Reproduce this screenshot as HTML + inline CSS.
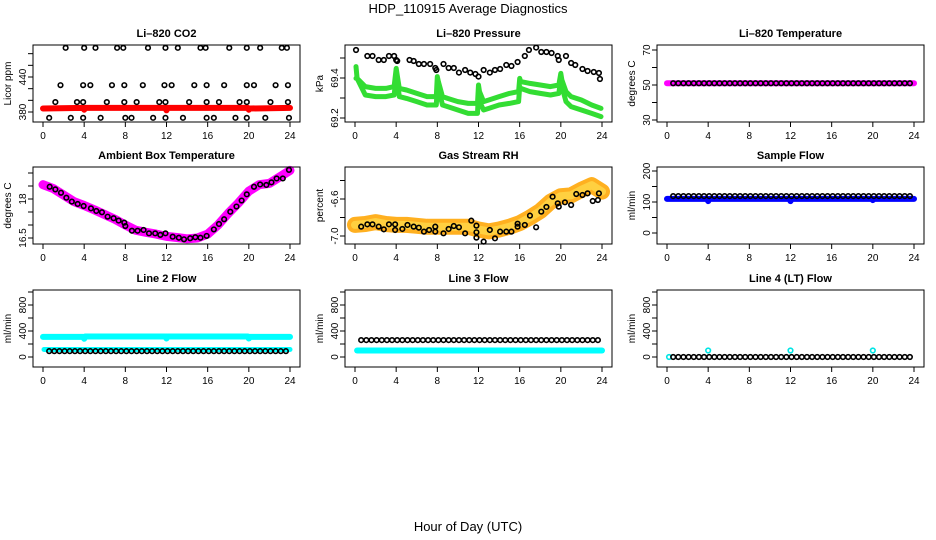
<!DOCTYPE html>
<html><head><meta charset="utf-8">
<style>
html,body{margin:0;padding:0;background:#fff;}
svg{display:block;font-family:"Liberation Sans",Arial,sans-serif;}
</style></head>
<body>
<svg id="chart" width="936" height="540" viewBox="0 0 936 540" xmlns="http://www.w3.org/2000/svg">
<text x="468" y="13" text-anchor="middle" font-size="13">HDP_110915  Average Diagnostics</text>
<text x="468" y="531" text-anchor="middle" font-size="13">Hour of Day (UTC)</text>
</svg>
<script>
// ---------- data ----------
const H47 = [0.6,1.1,1.6,2.1,2.6,3.1,3.6,4.1,4.6,5.1,5.6,6.1,6.6,7.1,7.6,8.1,8.6,9.1,9.6,10.1,10.6,11.1,11.6,12.1,12.6,13.1,13.6,14.1,14.6,15.1,15.6,16.1,16.6,17.1,17.6,18.1,18.6,19.1,19.6,20.1,20.6,21.1,21.6,22.1,22.6,23.1,23.6];
// CO2
const co2RedT = [0,3.9,4,4.1,11.9,12,12.1,19.9,20,20.1,24];
const co2RedV = [386,387,384,387,387,383,387,387,384,386,387];
const co2BlackT = [2.2,4.0,5.1,7.2,7.8,10.2,11.9,13.1,15.3,15.8,18.1,19.8,21.1,23.2,23.7,
 1.7,3.9,4.6,6.7,7.9,9.7,11.8,12.5,14.7,15.9,17.6,19.8,20.5,22.6,23.8,
 1.2,3.3,3.9,6.2,7.9,9.1,11.3,11.9,14.2,15.9,17.1,19.1,19.8,22.1,23.8,
 0.6,2.7,3.9,5.6,8.0,8.6,10.7,11.9,13.6,15.9,16.6,18.7,19.8,21.6,23.9];
const co2BlackV = [490,490,490,490,490,490,490,490,490,490,490,490,490,490,490,
 426,426,426,426,426,426,426,426,426,426,426,426,426,426,426,
 397,397,397,397,397,397,397,397,397,397,397,397,397,397,397,
 370,370,370,370,370,370,370,370,370,370,370,370,370,370,370];
// Pressure
const presBlackT = [0.1,1.2,1.7,2.3,2.8,3.3,3.8,4.0,4.1,5.3,5.7,6.2,6.7,7.3,7.8,7.9,8.6,9.1,9.6,10.1,10.7,11.2,11.7,12.0,12.5,13.1,13.6,14.1,14.7,15.2,15.8,16.5,16.9,17.6,18.1,18.6,19.1,19.7,19.8,20.5,21.0,21.4,22.1,22.6,23.2,23.7,23.8];
const presBlackV = [69.54,69.51,69.51,69.49,69.49,69.51,69.51,69.49,69.485,69.49,69.485,69.47,69.47,69.47,69.45,69.44,69.47,69.45,69.45,69.427,69.44,69.427,69.42,69.407,69.44,69.427,69.44,69.445,69.465,69.46,69.48,69.51,69.54,69.552,69.53,69.53,69.525,69.51,69.49,69.51,69.475,69.465,69.445,69.435,69.43,69.425,69.395];
const greenT = [0.1,0.2,1,2,3,3.8,4.0,4.1,4.3,5,6,7,7.9,8.0,8.1,8.5,9,10,11,11.9,12,12.1,12.5,13,14,15,15.9,16,16.1,17,18,19,19.8,20,20.1,20.5,21,22,23,23.9];
const greenUpper = [69.457,69.398,69.357,69.348,69.348,69.357,69.448,69.415,69.348,69.34,69.323,69.307,69.307,69.407,69.382,69.307,69.298,69.282,69.273,69.273,69.365,69.332,69.282,69.29,69.307,69.323,69.332,69.398,69.382,69.373,69.365,69.357,69.365,69.423,69.39,69.332,69.307,69.29,69.265,69.248];
const greenLower = [69.398,69.398,69.315,69.307,69.307,69.315,69.398,69.39,69.307,69.298,69.282,69.265,69.265,69.357,69.348,69.265,69.257,69.24,69.223,69.223,69.332,69.282,69.24,69.248,69.265,69.273,69.282,69.357,69.348,69.332,69.323,69.315,69.323,69.398,69.357,69.282,69.257,69.24,69.223,69.207];
// Li-820 temperature
const tempBandT = [0,24];
const tempBandV = [51,51];
const tempBlackV = [51,51,51,51,51,51,51,51,51,51,51,51,51,51,51,51,51,51,51,51,51,51,51,51,51,51,51,51,51,51,51,51,51,51,51,51,51,51,51,51,51,51,51,51,51,51,51];
// Ambient box temperature
const ambBandT = [0,1,2,3,4,5,6,7,8,9,10,11,12,13,14,15,16,17,18,19,20,21,22,23,24];
const ambBandV = [18.55,18.4,18.15,17.9,17.75,17.58,17.4,17.22,17.0,16.8,16.72,16.65,16.56,16.52,16.47,16.5,16.65,17.0,17.45,17.85,18.3,18.55,18.6,18.85,19.1];
const ambBlackT = [0.65,1.2,1.75,2.27,2.8,3.37,3.95,4.66,5.18,5.73,6.28,6.86,7.35,7.9,8.0,8.64,9.19,9.77,10.3,10.9,11.4,11.9,12.6,13.2,13.7,14.3,14.8,15.3,15.9,16.6,17.1,17.6,18.2,18.8,19.3,19.8,20.5,21.1,21.7,22.2,22.7,23.3,23.9];
const ambBlackV = [18.47,18.37,18.24,18.05,17.9,17.81,17.73,17.64,17.54,17.49,17.32,17.26,17.17,17.09,16.96,16.78,16.78,16.81,16.68,16.68,16.62,16.68,16.55,16.51,16.45,16.49,16.53,16.51,16.58,16.83,17.04,17.22,17.51,17.71,17.94,18.18,18.47,18.56,18.54,18.64,18.79,18.79,19.12];
// Gas stream RH
const rhBandT = [0,1,2,3,4,5,6,7,8,9,10,11,12,13,14,15,16,17,18,19,20,21,22,23,24];
const rhBandV = [-6.88,-6.87,-6.85,-6.87,-6.88,-6.88,-6.89,-6.9,-6.9,-6.9,-6.9,-6.9,-6.93,-6.95,-6.93,-6.9,-6.86,-6.8,-6.73,-6.63,-6.57,-6.56,-6.5,-6.45,-6.52];
const rhBlackT = [0.6,1.2,1.7,2.3,2.8,3.3,3.9,3.9,4.6,5.1,5.7,6.2,6.7,7.2,7.8,7.8,8.6,9.1,9.6,10.1,10.7,11.3,11.8,11.8,11.8,12.5,13.1,13.6,14.1,14.7,15.2,15.8,15.8,16.5,17.0,17.6,18.1,18.6,19.2,19.7,19.8,20.4,21.0,21.5,22.1,22.6,23.1,23.6,23.7];
const rhBlackV = [-6.899,-6.874,-6.874,-6.899,-6.928,-6.874,-6.874,-6.935,-6.924,-6.881,-6.899,-6.91,-6.953,-6.935,-6.899,-6.953,-6.971,-6.924,-6.892,-6.906,-6.971,-6.834,-6.888,-6.96,-7.018,-7.061,-6.935,-7.025,-6.953,-6.953,-6.953,-6.899,-6.867,-6.881,-6.78,-6.906,-6.737,-6.686,-6.575,-6.647,-6.683,-6.636,-6.665,-6.546,-6.557,-6.539,-6.622,-6.611,-6.539];
// Sample flow
const sfBandT = [0,3.9,4,4.1,11.9,12,12.1,19.9,20,20.1,24];
const sfBandV = [110,110,103,110,110,103,110,110,106,110,110];
const sfBlackV = [119,119,119,119,119,119,119,119,119,119,119,119,119,119,119,119,119,119,119,119,119,119,119,119,119,119,119,119,119,119,119,119,119,119,119,119,119,119,119,119,119,119,119,119,119,119,119];
// Line 2 flow
const l2CyanT = [0,3.9,4,4.1,11.9,12,12.1,19.9,20,20.1,24];
const l2CyanUpper = [310,310,280,315,315,285,315,315,285,310,310];
const l2CyanLowerT = [0.1,24];
const l2CyanLower = [115,115];
const l2BlackV = [90,90,90,90,90,90,90,90,90,90,90,90,90,90,90,90,90,90,90,90,90,90,90,90,90,90,90,90,90,90,90,90,90,90,90,90,90,90,90,90,90,90,90,90,90,90,90];
// Line 3 flow
const l3CyanT = [0.2,24];
const l3CyanV = [100,100];
const l3BlackV = [260,260,260,260,260,260,260,260,260,260,260,260,260,260,260,260,260,260,260,260,260,260,260,260,260,260,260,260,260,260,260,260,260,260,260,260,260,260,260,260,260,260,260,260,260,260,260];
// Line 4 flow
const l4CyanT = [0.2,4.0,12.0,20.0];
const l4CyanV = [0,100,100,100];
const l4BlackV = [0,0,0,0,0,0,0,0,0,0,0,0,0,0,0,0,0,0,0,0,0,0,0,0,0,0,0,0,0,0,0,0,0,0,0,0,0,0,0,0,0,0,0,0,0,0,0];
const xTicks = [0,4,8,12,16,20,24];

// ---------- drawing ----------
const NS = 'http://www.w3.org/2000/svg';
const svg = document.getElementById('chart');
const colX0 = [43, 355, 667];
const rowTop = [45, 167, 290];
const PW = 247, PH = 77;

function mk(tag, attrs, parent) {
  const e = document.createElementNS(NS, tag);
  for (const k in attrs) e.setAttribute(k, attrs[k]);
  (parent || svg).appendChild(e);
  return e;
}

function makePanel(name, col, row, title, ytitle, v1, p1, v2, p2, yTicks, yLabels) {
  const g = mk('g', {});
  
  
  const x0 = colX0[col], top = rowTop[row];
  const X = h => x0 + h * PW / 24;
  const Y = v => top + p1 + (v - v1) * (p2 - p1) / (v2 - v1);
  const left = x0 - 10, right = x0 + PW + 10, bottom = top + PH;
  const t = mk('text', {x: (left + right) / 2, y: top - 8, 'text-anchor': 'middle', 'font-size': 11, 'font-weight': 'bold'}, g);
  t.textContent = title;
  
  
  const yt = mk('text', {x: 0, y: 0, 'text-anchor': 'middle', 'font-size': 10, transform: `translate(${left - 22},${top + PH / 2}) rotate(-90)`}, g);
  yt.textContent = ytitle;
  
  
  const plot = mk('g', {}, g);
  
  
  const box = mk('rect', {x: left, y: top, width: right - left, height: PH, fill: 'none', stroke: '#000', 'stroke-width': 1}, g);
  
  
  xTicks.forEach(h => {
    mk('line', {x1: X(h), x2: X(h), y1: bottom, y2: bottom + 5, stroke: '#000'}, g);
    const l = mk('text', {x: X(h), y: bottom + 17, 'text-anchor': 'middle', 'font-size': 10}, g);
    l.textContent = h;
    
    
  });
  yTicks.forEach(v => {
    mk('line', {x1: left - 5, x2: left, y1: Y(v), y2: Y(v), stroke: '#000'}, g);
  });
  yLabels.forEach(v => {
    const l = mk('text', {x: 0, y: 0, 'text-anchor': 'middle', 'font-size': 10, transform: `translate(${left - 7},${Y(v)}) rotate(-90)`}, g);
    l.textContent = v;
    
    
  });
  return {X, Y, g: plot};
}

function band(p, ts, vs, color, w, nm) {
  const pts = ts.map((h, i) => p.X(h).toFixed(1) + ',' + p.Y(vs[i]).toFixed(1)).join(' ');
  const e = mk('polyline', {points: pts, fill: 'none', stroke: color, 'stroke-width': w, 'stroke-linecap': 'round', 'stroke-linejoin': 'round'}, p.g);
  
  
}
function dots(p, ts, vs, color, r, nm, fill) {
  ts.forEach((h, i) => {
    const c = mk('circle', {cx: p.X(h), cy: p.Y(vs[i]), r: r, fill: fill || 'none', stroke: color, 'stroke-width': 1.6}, p.g);
    
    
  });
}

// Li-820 CO2
let p = makePanel('co2', 0, 0, 'Li\u2013820 CO2', 'Licor ppm', 380, 67, 440, 32, [380,400,420,440,460,480], [380,440]);
band(p, co2RedT, co2RedV, '#ff0000', 6, 'co2-red-series');
dots(p, co2BlackT, co2BlackV, '#000', 2.3, 'co2-black-point');

// Pressure
p = makePanel('pressure', 1, 0, 'Li\u2013820 Pressure', 'kPa', 69.4, 33, 69.2, 73, [69.2,69.3,69.4,69.5], [69.2,69.4]);
band(p, greenT, greenUpper, '#33dd33', 5, 'pressure-green-upper');
band(p, greenT, greenLower, '#33dd33', 5, 'pressure-green-lower');
dots(p, presBlackT, presBlackV, '#000', 2.3, 'pressure-black-point');

// Li-820 Temperature
p = makePanel('li820-temp', 2, 0, 'Li\u2013820 Temperature', 'degrees C', 70, 5, 30, 75, [30,40,50,60,70], [30,50,70]);
band(p, tempBandT, tempBandV, '#ff00ff', 6, 'temp-magenta-series');
dots(p, H47, tempBlackV, '#000', 2.3, 'temp-black-point');

// Ambient Box Temperature
p = makePanel('ambient-temp', 0, 1, 'Ambient Box Temperature', 'degrees C', 18, 32, 16.5, 71, [16.5,17,17.5,18,18.5,19], [16.5,18.0]);
band(p, ambBandT, ambBandV, '#ff00ff', 9, 'ambient-magenta-series');
dots(p, ambBlackT, ambBlackV, '#000', 2.3, 'ambient-black-point');

// Gas Stream RH
p = makePanel('gas-rh', 1, 1, 'Gas Stream RH', 'percent', -6.6, 32, -7.0, 69, [-7.0,-6.8,-6.6,-6.4], ['-7.0','-6.6']);
band(p, rhBandT, rhBandV, '#ffb020', 16, 'rh-orange-series');
band(p, rhBandT, rhBandV, '#ffd040', 8, 'rh-yellow-series');
dots(p, rhBlackT, rhBlackV, '#000', 2.3, 'rh-black-point');

// Sample Flow
p = makePanel('sample-flow', 2, 1, 'Sample Flow', 'ml/min', 0, 66, 200, 4, [0,50,100,150,200], [0,100,200]);
band(p, sfBandT, sfBandV, '#0000ff', 6, 'sample-flow-blue-series');
dots(p, H47, sfBlackV, '#000', 2.3, 'sample-flow-black-point');

// Line 2 Flow
p = makePanel('line2-flow', 0, 2, 'Line 2 Flow', 'ml/min', 0, 67, 1000, 2, [0,200,400,600,800,1000], [0,400,800]);
band(p, l2CyanT, l2CyanUpper, '#00ffff', 6, 'line2-cyan-upper');
band(p, l2CyanLowerT, l2CyanLower, '#00ffff', 5, 'line2-cyan-lower');
dots(p, H47, l2BlackV, '#000', 2.3, 'line2-black-point');

// Line 3 Flow
p = makePanel('line3-flow', 1, 2, 'Line 3 Flow', 'ml/min', 0, 67, 1000, 2, [0,200,400,600,800,1000], [0,400,800]);
band(p, l3CyanT, l3CyanV, '#00ffff', 6, 'line3-cyan-series');
dots(p, H47, l3BlackV, '#000', 2.3, 'line3-black-point');

// Line 4 (LT) Flow
p = makePanel('line4-flow', 2, 2, 'Line 4 (LT) Flow', 'ml/min', 0, 67, 1000, 2, [0,200,400,600,800,1000], [0,400,800]);
dots(p, l4CyanT, l4CyanV, '#00e5e5', 2.3, 'line4-cyan-point');
dots(p, H47, l4BlackV, '#000', 2.3, 'line4-black-point');
</script>
</body></html>
